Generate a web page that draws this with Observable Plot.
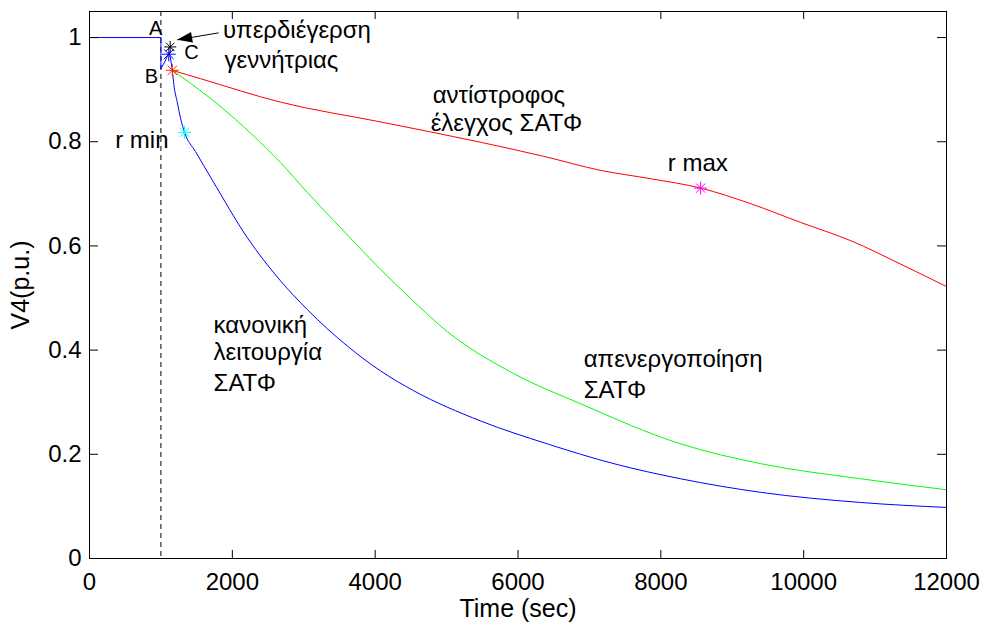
<!DOCTYPE html>
<html><head><meta charset="utf-8">
<script src="https://cdn.jsdelivr.net/npm/d3@7"></script>
<script src="https://cdn.jsdelivr.net/npm/@observablehq/plot@0.6"></script>
<style>html,body{margin:0;padding:0;background:#fff}</style>
</head><body><div id="chart"></div>
<script>
// ---- axes ----
const xTicks = [0, 2000, 4000, 6000, 8000, 10000, 12000];
const yTicks = [0, 0.2, 0.4, 0.6, 0.8, 1];
const xTitle = "Time (sec)";
const yTitle = "V4(p.u.)";
const switchTime = [1000];

// ---- common start (drawn in blue) ----
const prefixT = [0, 1000, 1000, 1060, 1115, 1140, 1160];
const prefixV = [1.0, 1.0, 0.94, 0.955, 0.972, 0.955, 0.937];

// ---- κανονική λειτουργία ΣΑΤΦ (blue) ----
const normalT = [1160, 1181, 1230, 1280, 1331, 1485, 1717, 2209, 2675, 3049, 3609, 4076, 4540, 5477, 6411, 7343, 8278, 9399, 10800, 12000];
const normalV = [0.937, 0.91, 0.875, 0.842, 0.818, 0.781, 0.727, 0.616, 0.533, 0.478, 0.408, 0.36, 0.322, 0.264, 0.220, 0.182, 0.153, 0.127, 0.1075, 0.098];

// ---- απενεργοποίηση ΣΑΤΦ (green) ----
const disabledT = [1160, 1695, 2157, 2465, 2675, 3054, 3418, 4076, 4496, 5015, 5939, 6877, 8278, 9399, 10800, 12000];
const disabledV = [0.937, 0.883, 0.829, 0.789, 0.760, 0.702, 0.649, 0.555, 0.499, 0.435, 0.355, 0.297, 0.220, 0.182, 0.153, 0.132];

// ---- αντίστροφος έλεγχος ΣΑΤΦ (red) ----
const inverseT = [1160, 1555, 2675, 4076, 5477, 6360, 7158, 7858, 8558, 9259, 9959, 10660, 11360, 12000];
const inverseV = [0.937, 0.921, 0.876, 0.838, 0.799, 0.772, 0.745, 0.729, 0.711, 0.681, 0.645, 0.610, 0.565, 0.522];

// ---- markers ----
const markerT = [1110, 1130, 1160, 1331, 8558];
const markerV = [0.968, 0.982, 0.937, 0.818, 0.711];
const markerColor = ["#0000ff", "#000000", "#ff3000", "#00ffff", "#ff00ff"];
const markerSize = [7, 6, 6.5, 6.5, 6.5];

// ---- annotations ----
const labelText = ["A", "B", "C", "r min", "υπερδιέγερση", "γεννήτριας", "αντίστροφος", "έλεγχος ΣΑΤΦ", "r max", "κανονική", "λειτουργία", "ΣΑΤΦ", "απενεργοποίηση", "ΣΑΤΦ"];
const labelT = [925, 868, 1429, 1107, 1869, 1890, 4805, 4777, 8097, 1737, 1737, 1737, 6920, 6920];
const labelV = [1.017, 0.925, 0.971, 0.802, 1.0144, 0.9567, 0.8882, 0.8358, 0.7581, 0.4475, 0.395, 0.3355, 0.3816, 0.322];
const labelAnchor = ["middle", "middle", "middle", "end", "start", "start", "start", "start", "start", "start", "start", "start", "start", "start"];
const labelSize = [20, 20, 20, 24, 24, 24, 24, 24, 24, 24, 24, 24, 24, 24];

// arrow: tail -> tip
const arrowT = [1807, 1228];
const arrowV = [1.009, 0.9956];

// ---- build tables ----
const toRows = (T, V) => T.map((t, i) => ({t, v: V[i]}));
const prefixRows = toRows(prefixT, prefixV);
const blueRows = toRows(normalT, normalV);
const greenRows = toRows(disabledT, disabledV);
const redRows = toRows(inverseT, inverseV);
const markers = markerT.map((t, i) => ({t, v: markerV[i], c: markerColor[i], r: markerSize[i]}));
const labels = labelText.map((s, i) => ({s, t: labelT[i], v: labelV[i], a: labelAnchor[i], fs: labelSize[i]}));
const arrow = [{t1: arrowT[0], v1: arrowV[0], t2: arrowT[1], v2: arrowV[1]}];

const W = 986, H = 633, mL = 89, mR = 40, mT = 11, mB = 75;
const plotW = W - mL - mR, plotH = H - mT - mB;

const asterisk = {draw(ctx, size) {
  const r = Math.sqrt(size / Math.PI), d = r * Math.SQRT1_2;
  ctx.moveTo(-r, 0); ctx.lineTo(r, 0);
  ctx.moveTo(0, -r); ctx.lineTo(0, r);
  ctx.moveTo(-d, -d); ctx.lineTo(d, d);
  ctx.moveTo(-d, d); ctx.lineTo(d, -d);
}};
const headSym = {draw(ctx, size) {
  const L = Math.sqrt(size / Math.PI), w = L * 0.36;
  ctx.moveTo(0, 0); ctx.lineTo(-w, L); ctx.lineTo(w, L); ctx.closePath();
}};

const font = "'Liberation Sans', Arial, Helvetica, sans-serif";
const groups = ["start", "middle", "end"];

const chart = Plot.plot({
  width: W, height: H,
  marginLeft: mL, marginRight: mR, marginTop: mT, marginBottom: mB,
  style: {fontFamily: font, background: "#fff", color: "#000"},
  x: {domain: [0, 12000]},
  y: {domain: [0, 1.05]},
  r: {type: "identity"},
  marks: [
    Plot.ruleX(switchTime, {x: d => d, stroke: "#000", strokeDasharray: "5,4", strokeWidth: 1}),
    Plot.line(greenRows, {x: "t", y: "v", stroke: "#00ff00", strokeWidth: 1, curve: "monotone-x"}),
    Plot.line(redRows, {x: "t", y: "v", stroke: "#ff0000", strokeWidth: 1, curve: "monotone-x"}),
    Plot.line(prefixRows, {x: "t", y: "v", stroke: "#0000ff", strokeWidth: 1}),
    Plot.line(blueRows, {x: "t", y: "v", stroke: "#0000ff", strokeWidth: 1, curve: "monotone-x"}),
    Plot.dot(markers, {x: "t", y: "v", r: "r", symbol: asterisk, stroke: "c", fill: "none", strokeWidth: 1}),
    Plot.link(arrow, {x1: "t1", y1: "v1", x2: "t2", y2: "v2", stroke: "#000", strokeWidth: 1}),
    Plot.dot(arrow, {x: "t2", y: "v2", r: 15, symbol: headSym, fill: "#000", stroke: "none", rotate: -100}),
    ...groups.map(g => Plot.text(labels.filter(d => d.a === g), {x: "t", y: "v", text: "s", textAnchor: g, fontSize: "fs", fill: "#000"})),
    Plot.frame({stroke: "#000", strokeWidth: 1}),
    Plot.tickX(xTicks, {x: d => d, insetTop: plotH - 8, stroke: "#000"}),
    Plot.tickX(xTicks, {x: d => d, insetBottom: plotH - 8, stroke: "#000"}),
    Plot.tickY(yTicks, {y: d => d, insetRight: plotW - 9, stroke: "#000"}),
    Plot.tickY(yTicks, {y: d => d, insetLeft: plotW - 9, stroke: "#000"}),
    Plot.axisX(xTicks, {tickSize: 0, tickPadding: 14, fontSize: 24, tickFormat: d => String(d), label: null}),
    Plot.axisY(yTicks, {tickSize: 0, tickPadding: 8, fontSize: 24, tickFormat: d => String(d), label: null}),
    Plot.text([xTitle], {frameAnchor: "bottom", lineAnchor: "middle", textAnchor: "middle", dy: 50, fontSize: 25, fill: "#000"}),
    Plot.text([yTitle], {frameAnchor: "left", lineAnchor: "middle", textAnchor: "middle", dx: -69, rotate: -90, fontSize: 25, fill: "#000"})
  ]
});
document.getElementById("chart").appendChild(chart);
</script>
</body></html>
